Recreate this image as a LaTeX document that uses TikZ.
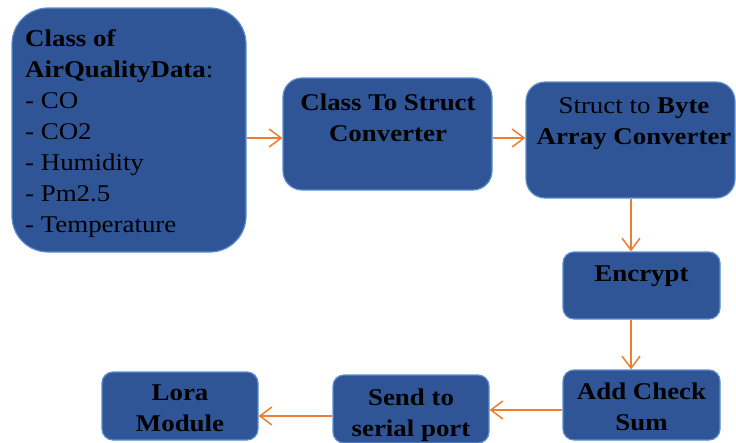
\documentclass[tikz,border=0pt]{standalone}
\usepackage{fontspec}
\setmainfont[FakeStretch=1.12]{Liberation Serif}
\usetikzlibrary{arrows.meta}
\definecolor{boxfill}{HTML}{2F5597}
\definecolor{boxedge}{HTML}{5B8FD0}
\definecolor{arrcol}{HTML}{ED7D31}
\tikzset{
  box/.style={draw=boxedge, fill=boxfill, line width=1.2pt, inner sep=0pt},
  txt/.style={inner sep=0pt, anchor=north, align=center, text=black,
    font=\fontsize{24}{31}\selectfont},
  arr/.style={draw=arrcol, line width=1.5pt,
    -{Straight Barb[length=12pt,width=18pt]}},
}
\begin{document}
\begin{tikzpicture}[x=1pt,y=-1pt]
\useasboundingbox (0,0) rectangle (736,442);
% boxes
\node[box, minimum width=234pt, minimum height=244pt, rounded corners=36pt] (b1) at (129,130) {};
\node[box, minimum width=209pt, minimum height=112pt, rounded corners=19pt] (b2) at (387.5,134) {};
\node[box, minimum width=209pt, minimum height=116pt, rounded corners=19pt] (b3) at (630.5,140) {};
\node[box, minimum width=157pt, minimum height=67pt, rounded corners=11pt] (enc) at (641.5,285.5) {};
\node[box, minimum width=157pt, minimum height=70pt, rounded corners=11pt] (add) at (641.5,405) {};
\node[box, minimum width=156pt, minimum height=68pt, rounded corners=11pt] (send) at (411,409) {};
\node[box, minimum width=156pt, minimum height=68pt, rounded corners=11pt] (lora) at (180,406) {};
% texts
\node[txt, anchor=north west, align=left] (t1) at (25,24.3)
  {\strut\textbf{Class of}\\\strut\textbf{AirQualityData}:\\\strut- CO\\\strut- CO2\\\strut- Humidity\\\strut- Pm2.5\\\strut- Temperature};
\node[txt] (t2) at (388,88.3) {\strut\textbf{Class To Struct}\\\strut\textbf{Converter}};
\node[txt] (t3) at (634,91.3) {\strut Struct to \textbf{Byte}\\\strut\textbf{Array Converter}};
\node[txt] (tenc) at (641.5,259.3) {\strut\textbf{Encrypt}};
\node[txt] (tadd) at (641.5,377.3) {\strut\textbf{Add Check}\\\strut\textbf{Sum}};
\node[txt] (tsend) at (411,383.3) {\strut\textbf{Send to}\\\strut\textbf{serial port}};
\node[txt] (tlora) at (180,378.3) {\strut\textbf{Lora}\\\strut\textbf{Module}};
% connectors
\draw[arr] (b1.east |- 0,138) -- (b2.west |- 0,138);
\draw[arr] (b2.east |- 0,138) -- (b3.west |- 0,138);
\draw[arr] (b3.south -| 631,0) -- (enc.north -| 631,0);
\draw[arr] (enc.south -| 631,0) -- (add.north -| 631,0);
\draw[arr] (add.west |- 0,410) -- (send.east |- 0,410);
\draw[arr] (send.west |- 0,416) -- (lora.east |- 0,416);
\end{tikzpicture}
\end{document}
